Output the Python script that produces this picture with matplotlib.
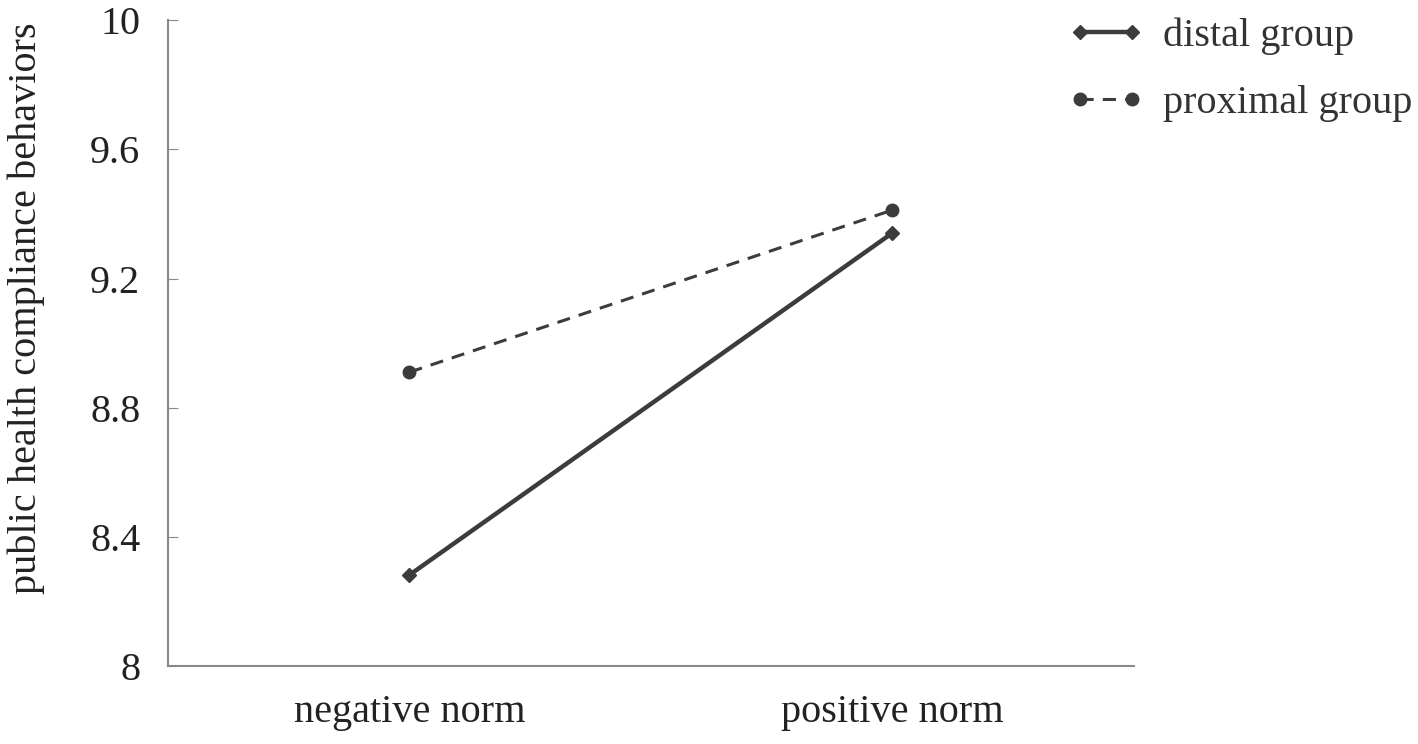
import matplotlib
matplotlib.use('Agg')
import matplotlib.pyplot as plt

plt.rcParams['font.family'] = ['Liberation Serif', 'DejaVu Serif']

conditions = ['negative norm', 'positive norm']
distal = [8.282, 9.341]
proximal = [8.910, 9.412]
y_ticks = [8, 8.4, 8.8, 9.2, 9.6, 10]
y_ticklabels = ['8', '8.4', '8.8', '9.2', '9.6', '10']

fig = plt.figure(figsize=(14.18, 7.44), dpi=100)
ax = fig.add_axes([0.1185, 0.1048, 0.681, 0.868])

col = '#3c3c3c'
x = range(len(conditions))
ax.plot(x, distal, color=col, lw=3.2, ls='-', marker='D', ms=7, label='distal group')
ax.plot(x, proximal, color=col, lw=2.2, ls=(0, (4.3, 3)), marker='o', ms=9, label='proximal group')

ax.set_xlim(-0.5, 1.5)
ax.set_ylim(8, 10)
ax.set_xticks(list(x))
ax.set_xticklabels(conditions, fontsize=29, color='#222222')
ax.set_yticks(y_ticks)
ax.set_yticklabels(y_ticklabels, fontsize=29, color='#222222')
ax.tick_params(axis='x', length=0, pad=20)
ax.tick_params(axis='y', direction='in', length=7, color='#888888', pad=20)
ax.set_ylabel('public health compliance behaviors', fontsize=29, color='#222222')
# label sits a bit above the axis centre in the original
ax.yaxis.set_label_coords(-0.1273, 0.554)

for s in ['top', 'right']:
    ax.spines[s].set_visible(False)
for s in ['left', 'bottom']:
    ax.spines[s].set_color('#888888')
    ax.spines[s].set_linewidth(1.5)

leg = fig.legend(*ax.get_legend_handles_labels(), loc='upper left',
                 bbox_to_anchor=(1068 / 1418, 0.977), frameon=False, borderpad=0,
                 borderaxespad=0, numpoints=2, fontsize=29, handlelength=1.9,
                 handletextpad=0.45, labelspacing=0.75)
for t in leg.get_texts():
    t.set_color('#333333')

fig.savefig('out.png', dpi=100)
